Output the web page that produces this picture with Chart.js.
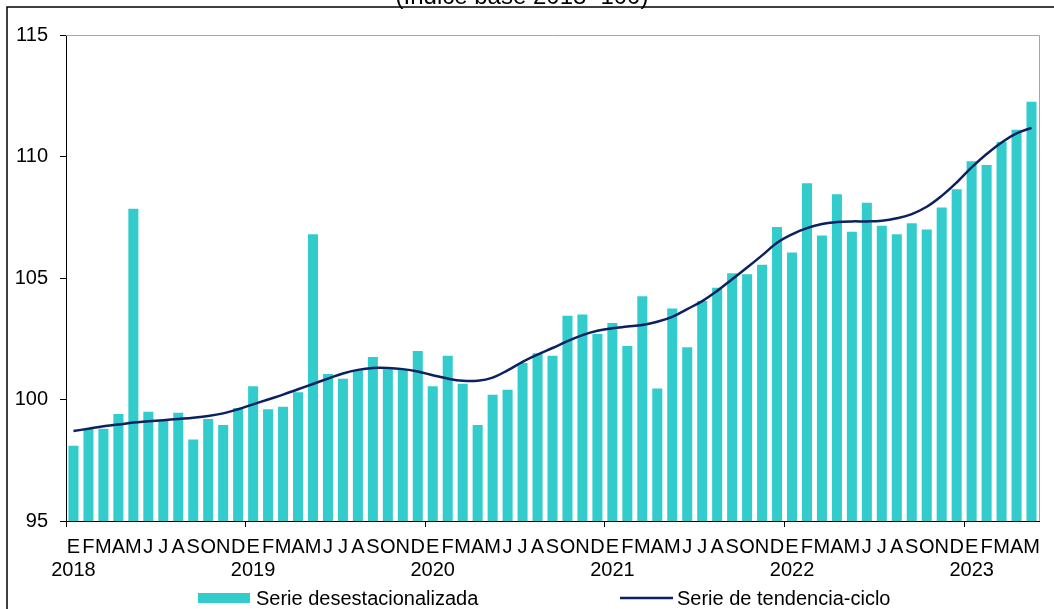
<!DOCTYPE html>
<html>
<head>
<meta charset="utf-8">
<script src="https://cdn.jsdelivr.net/npm/chart.js@4/dist/chart.umd.min.js"></script>
<style>
    html, body { margin: 0; padding: 0; background: #fff; }
    #wrap { width: 1054px; height: 609px; position: relative; }
</style>
</head>
<body>
<div id="wrap"><canvas id="grafico"></canvas></div>
<script>
// --- DATOS ---
const meses = ['E', 'F', 'M', 'A', 'M', 'J', 'J', 'A', 'S', 'O', 'N', 'D'];
const anios = ['2018', '2019', '2020', '2021', '2022', '2023'];

// Serie desestacionalizada (ene 2018 - may 2023)
const desestacionalizada = [
    98.1, 98.8, 98.8, 99.4, 107.85, 99.5, 99.15, 99.45, 98.35, 99.2, 98.95, 99.65,
    100.55, 99.6, 99.7, 100.3, 106.8, 101.05, 100.85, 101.2, 101.75, 101.25, 101.25, 102.0,
    100.55, 101.8, 100.65, 98.95, 100.2, 100.4, 101.5, 101.9, 101.8, 103.45, 103.5, 102.7,
    103.15, 102.2, 104.25, 100.45, 103.75, 102.15, 104.05, 104.6, 105.2, 105.15, 105.55, 107.1,
    106.05, 108.9, 106.75, 108.45, 106.9, 108.1, 107.15, 106.8, 107.25, 107.0, 107.9, 108.65,
    109.8, 109.65, 110.6, 111.1, 112.25
];

// Serie de tendencia-ciclo
const tendencia = [
    98.7, 98.8, 98.9, 98.97, 99.05, 99.1, 99.15, 99.2, 99.25, 99.32, 99.43, 99.6,
    99.8, 100.0, 100.2, 100.42, 100.64, 100.86, 101.07, 101.22, 101.3, 101.3, 101.25, 101.15,
    101.0, 100.86, 100.77, 100.77, 100.9, 101.2, 101.55, 101.85, 102.12, 102.4, 102.65, 102.83,
    102.93, 103.0, 103.07, 103.2, 103.4, 103.72, 104.05, 104.47, 104.95, 105.43, 105.93, 106.45,
    106.8, 107.05, 107.22, 107.3, 107.33, 107.33, 107.36, 107.46, 107.63, 107.93, 108.38, 108.93,
    109.55, 110.1, 110.58, 110.95, 111.18
];

const yMin = 95, yMax = 115, yPaso = 5;

const titulo = '(Índice base 2018=100)';
const nombreBarras = 'Serie desestacionalizada';
const nombreLinea = 'Serie de tendencia-ciclo';

const colorBarras = '#33CCCC';
const colorLinea = '#0B2161';
const fuente = "'Liberation Sans', Arial, sans-serif";

// etiquetas: letra del mes y, en enero, el año debajo
const etiquetas = desestacionalizada.map(function (v, i) {
    const m = meses[i % 12];
    return i % 12 === 0 ? [m, anios[Math.floor(i / 12)]] : m;
});

// --- marco, titulo y leyenda dibujados a mano ---
const extras = {
    id: 'extras',
    beforeDraw: function (chart) {
        const ctx = chart.ctx;
        ctx.save();
        ctx.fillStyle = '#fff';
        ctx.fillRect(0, 0, chart.width, chart.height);
        ctx.restore();
    },
    afterDraw: function (chart) {
        const ctx = chart.ctx;
        const a = chart.chartArea;
        ctx.save();

        // borde gris arriba y a la derecha del area
        ctx.strokeStyle = '#a6a6a6';
        ctx.lineWidth = 1;
        ctx.beginPath();
        ctx.moveTo(a.left, a.top + 0.5);
        ctx.lineTo(a.right + 0.5, a.top + 0.5);
        ctx.lineTo(a.right + 0.5, a.bottom);
        ctx.stroke();

        // marco exterior
        ctx.strokeStyle = '#000';
        ctx.lineWidth = 1.5;
        ctx.beginPath();
        ctx.moveTo(7, chart.height);
        ctx.lineTo(7, 7);
        ctx.lineTo(chart.width, 7);
        ctx.stroke();

        // titulo (cortado arriba)
        ctx.fillStyle = '#000';
        ctx.font = '24px ' + fuente;
        ctx.textAlign = 'center';
        ctx.textBaseline = 'alphabetic';
        ctx.fillText(titulo, 522, 4);

        // leyenda
        ctx.font = '20px ' + fuente;
        const yl = chart.height - 11;
        ctx.textAlign = 'left';
        ctx.textBaseline = 'middle';
        ctx.fillStyle = colorBarras;
        ctx.fillRect(198, yl - 5, 52, 10);
        ctx.fillStyle = '#000';
        ctx.fillText(nombreBarras, 256, yl + 1);

        ctx.strokeStyle = colorLinea;
        ctx.lineWidth = 2.5;
        ctx.beginPath();
        ctx.moveTo(620, yl);
        ctx.lineTo(673, yl);
        ctx.stroke();
        ctx.fillText(nombreLinea, 677, yl + 1);

        ctx.restore();
    }
};

Chart.defaults.font.family = fuente;
Chart.defaults.font.size = 20;
Chart.defaults.color = '#000';

new Chart(document.getElementById('grafico'), {
    type: 'bar',
    data: {
        labels: etiquetas,
        datasets: [{
            type: 'line',
            label: nombreLinea,
            data: tendencia,
            borderColor: colorLinea,
            borderWidth: 2.5,
            pointRadius: 0,
            tension: 0.4,
            fill: false,
            order: 0
        }, {
            label: nombreBarras,
            data: desestacionalizada,
            backgroundColor: colorBarras,
            barPercentage: 0.67,
            categoryPercentage: 1,
            order: 1
        }]
    },
    options: {
        responsive: true,
        maintainAspectRatio: false,
        animation: false,
        layout: {
            padding: { top: 35, right: 15, left: 0, bottom: 0 }
        },
        plugins: {
            legend: { display: false },
            tooltip: { enabled: false }
        },
        scales: {
            x: {
                offset: true,
                afterFit: function (s) { s.height = 88; },
                grid: {
                    offset: true,
                    drawOnChartArea: false,
                    tickLength: 6,
                    color: function (c) {
                        return (c.index !== undefined && c.index % 12 === 0) ? '#000' : 'rgba(0,0,0,0)';
                    }
                },
                border: { color: '#000', width: 1 },
                ticks: {
                    autoSkip: false,
                    maxRotation: 0,
                    minRotation: 0,
                    padding: 9,
                    font: { size: 20, lineHeight: 1.15 }
                }
            },
            y: {
                min: yMin,
                max: yMax,
                afterFit: function (s) { s.width = 66; },
                grid: {
                    drawOnChartArea: false,
                    tickLength: 6,
                    color: '#000'
                },
                border: { color: '#000', width: 1 },
                ticks: {
                    stepSize: yPaso,
                    padding: 12,
                    font: { size: 20 }
                }
            }
        }
    },
    plugins: [extras]
});
</script>
</body>
</html>
